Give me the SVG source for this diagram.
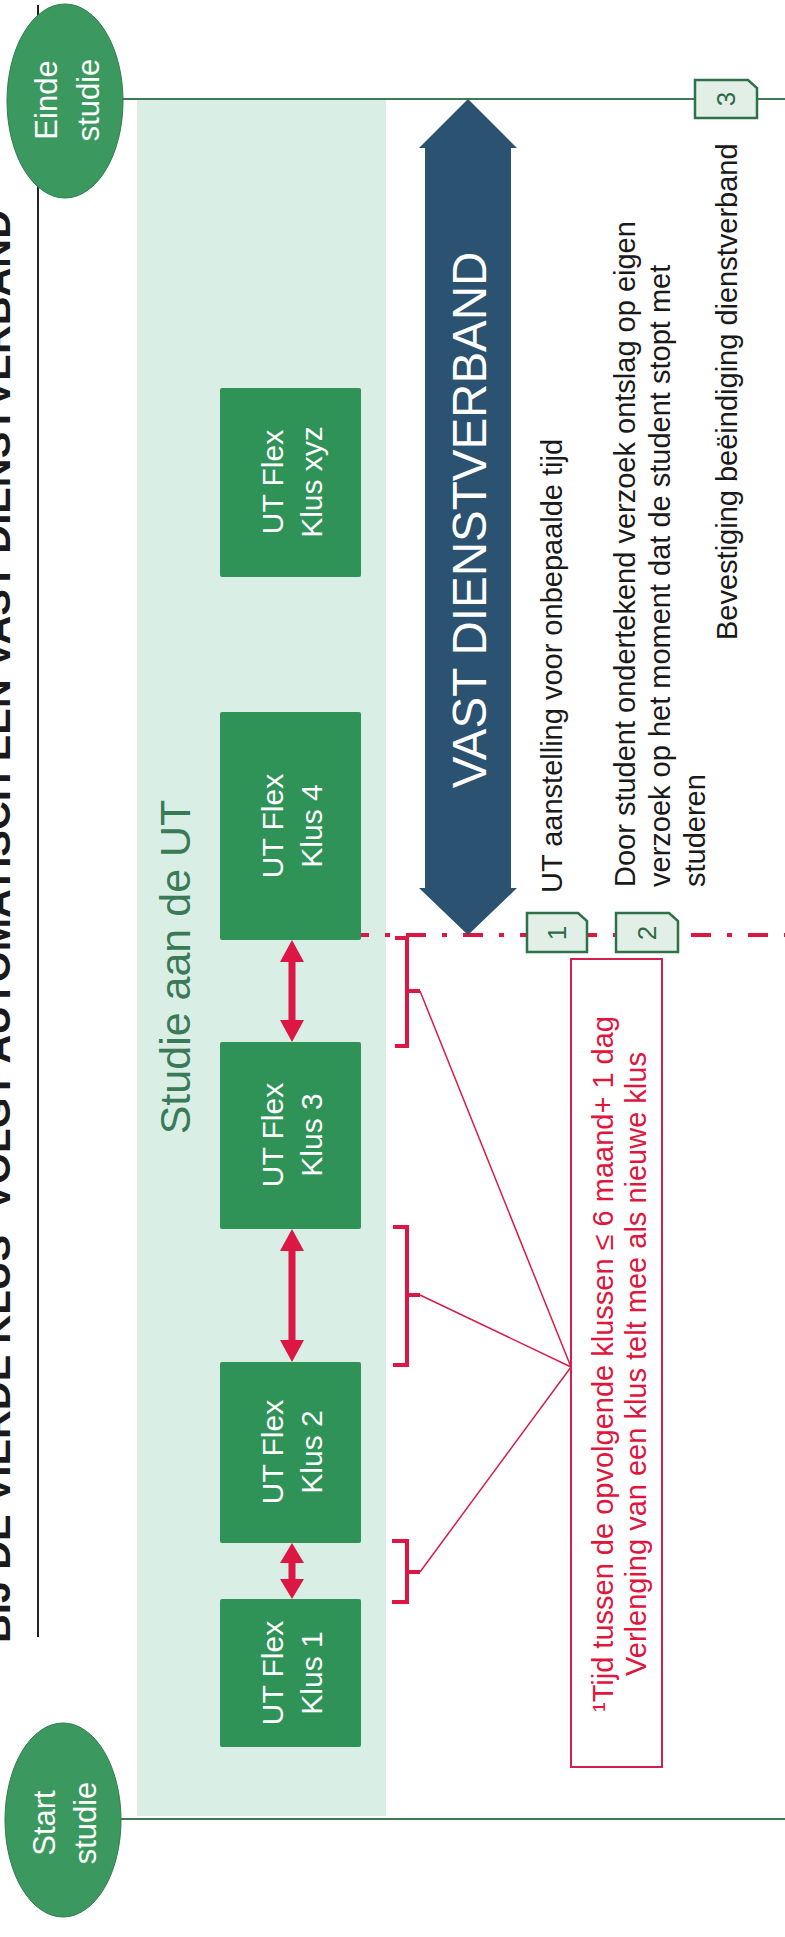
<svg xmlns="http://www.w3.org/2000/svg" width="785" height="1937" viewBox="0 0 785 1937">
<style>
text{font-family:"Liberation Sans",Arial,sans-serif}
.title{font-weight:bold;font-size:38px;fill:#1a1a1a}
.ell{fill:#3b9960;stroke:#2f7d4d;stroke-width:1}
.ellt{fill:#fff;font-size:31px;text-anchor:middle}
.box{fill:#2f9358}
.boxt{fill:#fff;font-size:30px;text-anchor:middle}
.gl{stroke:#3f7a55;stroke-width:2}
.red{fill:#dc1743}
.brk{fill:none;stroke:#dc1743;stroke-width:4}
.thin{stroke:#d81d4a;stroke-width:1.5;fill:none}
.doc{fill:#e1efe7;stroke:#2f7048;stroke-width:2.5}
.doct{fill:#2f6a45;font-size:26px;text-anchor:middle}
.body{fill:#1a1a1a;font-size:29px}
.note{fill:#e0163c;font-size:29px;text-anchor:middle}
</style>
<rect width="785" height="1937" fill="#fff"/>
<g id="title">
<text class="title" transform="translate(10,1643) rotate(-90)" textLength="1433" lengthAdjust="spacingAndGlyphs">BIJ DE VIERDE KLUS¹ VOLGT AUTOMATISCH EEN VAST DIENSTVERBAND</text>
<line x1="38" y1="5" x2="38" y2="1637" stroke="#222" stroke-width="2"/>
</g>
<g id="panel">
<rect x="137" y="99" width="249" height="1717" fill="#d9efe5"/>
<text transform="translate(190,967) rotate(-90)" font-size="43" fill="#3b7a57" text-anchor="middle">Studie aan de UT</text>
</g>
<g id="connectors">
<line class="gl" x1="120" y1="99" x2="785" y2="99"/>
<line class="gl" x1="120" y1="1819" x2="785" y2="1819"/>
<line x1="292" y1="935" x2="785" y2="935" stroke="#dc1743" stroke-width="4" stroke-dasharray="20 16 5 16"/>
<polygon class="red" points="292,1543 304,1563 295.5,1563 295.5,1579 304,1579 292,1599 280,1579 288.5,1579 288.5,1563 280,1563"/>
<polygon class="red" points="292,1229 304,1251 295.5,1251 295.5,1340 304,1340 292,1362 280,1340 288.5,1340 288.5,1251 280,1251"/>
<polygon class="red" points="292,940 304,962 295.5,962 295.5,1020 304,1020 292,1042 280,1020 288.5,1020 288.5,962 280,962"/>
<path class="brk" d="M395,938 H407 V1046 H395 M407,991 H420"/>
<path class="brk" d="M393,1227 H407 V1365 H393 M407,1295 H420"/>
<path class="brk" d="M392,1541 H407 V1602 H392 M407,1572 H420"/>
<path class="thin" d="M420,991 L571,1367 M420,1295 L571,1367 M420,1572 L571,1367"/>
</g>
<g id="einde">
<ellipse class="ell" cx="65" cy="101" rx="58" ry="97"/>
<text class="ellt" transform="translate(57,100) rotate(-90)"><tspan x="0" y="0">Einde</tspan><tspan x="0" y="42">studie</tspan></text>
</g>
<g id="start">
<ellipse class="ell" cx="63" cy="1820" rx="58" ry="97"/>
<text class="ellt" transform="translate(55,1823) rotate(-90)"><tspan x="0" y="0">Start</tspan><tspan x="0" y="41">studie</tspan></text>
</g>
<g id="klus1">
<rect class="box" x="220" y="1599" width="141" height="148" rx="2"/>
<text class="boxt" transform="translate(283,1673) rotate(-90)"><tspan x="0" y="0">UT Flex</tspan><tspan x="0" y="39">Klus 1</tspan></text>
</g>
<g id="klus2">
<rect class="box" x="220" y="1362" width="141" height="181" rx="2"/>
<text class="boxt" transform="translate(283,1452) rotate(-90)"><tspan x="0" y="0">UT Flex</tspan><tspan x="0" y="39">Klus 2</tspan></text>
</g>
<g id="klus3">
<rect class="box" x="220" y="1042" width="141" height="187" rx="2"/>
<text class="boxt" transform="translate(283,1135) rotate(-90)"><tspan x="0" y="0">UT Flex</tspan><tspan x="0" y="39">Klus 3</tspan></text>
</g>
<g id="klus4">
<rect class="box" x="220" y="712" width="141" height="228" rx="2"/>
<text class="boxt" transform="translate(283,826) rotate(-90)"><tspan x="0" y="0">UT Flex</tspan><tspan x="0" y="39">Klus 4</tspan></text>
</g>
<g id="klusxyz">
<rect class="box" x="220" y="388" width="141" height="189" rx="2"/>
<text class="boxt" transform="translate(283,482) rotate(-90)"><tspan x="0" y="0">UT Flex</tspan><tspan x="0" y="39">Klus xyz</tspan></text>
</g>
<g id="vast">
<polygon fill="#2b5270" points="468,99 517,148 511,148 511,888 517,888 468,935 419,888 425,888 425,148 419,148"/>
<text transform="translate(486,520) rotate(-90)" font-size="47.5" fill="#fff" text-anchor="middle">VAST DIENSTVERBAND</text>
</g>
<g id="note">
<rect x="571" y="959" width="91" height="808" fill="#fff" stroke="#d4204a" stroke-width="2"/>
<text class="note" transform="translate(613,1364) rotate(-90)"><tspan x="0" y="0">¹Tijd tussen de opvolgende klussen ≤ 6 maand+ 1 dag</tspan><tspan x="0" y="33">Verlenging van een klus telt mee als nieuwe klus</tspan></text>
</g>
<g id="doc1">
<path class="doc" d="M527,913 H578 L587,921 V952 H527 Z"/>
<text class="doct" transform="translate(566,933) rotate(-90)">1</text>
</g>
<g id="doc2">
<path class="doc" d="M616,913 H669 L678,921 V952 H616 Z"/>
<text class="doct" transform="translate(656,933) rotate(-90)">2</text>
</g>
<g id="doc3">
<path class="doc" d="M695,80 H748 L757,88 V118 H695 Z"/>
<text class="doct" transform="translate(735,99) rotate(-90)">3</text>
</g>
<g id="texts">
<text class="body" transform="translate(562,893) rotate(-90)">UT aanstelling voor onbepaalde tijd</text>
<text class="body" transform="translate(635,887) rotate(-90)"><tspan x="0" y="0">Door student ondertekend verzoek ontslag op eigen</tspan><tspan x="0" y="35">verzoek op het moment dat de student stopt met</tspan><tspan x="0" y="70">studeren</tspan></text>
<text class="body" transform="translate(737,640) rotate(-90)">Bevestiging beëindiging dienstverband</text>
</g>
</svg>
